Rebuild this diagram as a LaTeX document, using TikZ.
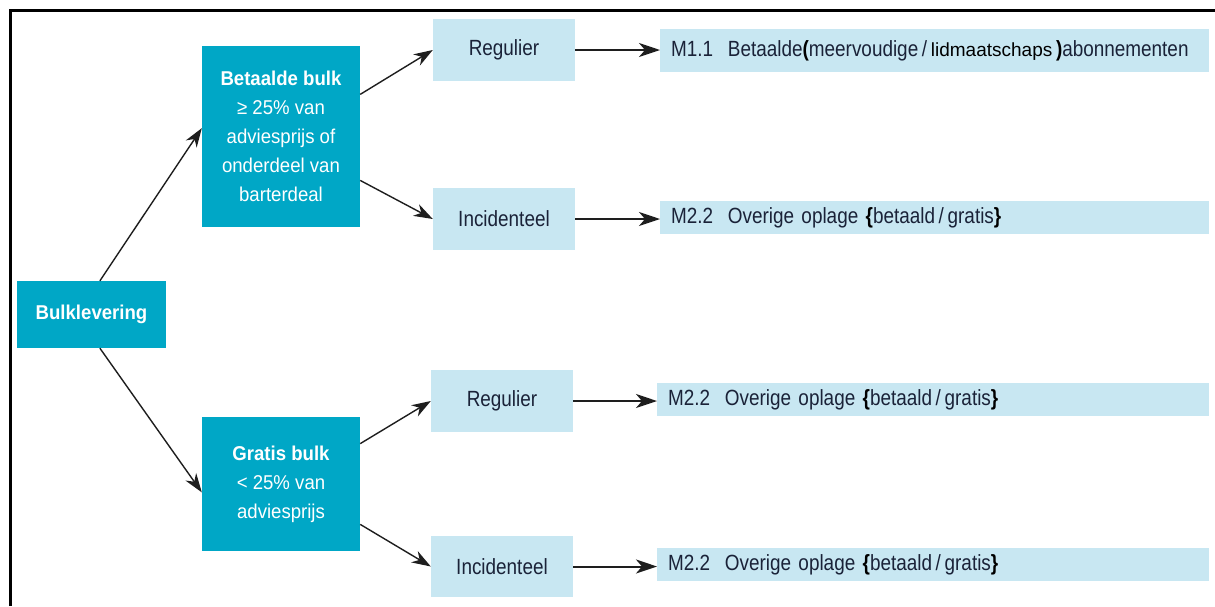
\documentclass[tikz,border=0pt]{standalone}
\usepackage{fontspec}
\setmainfont{Liberation Sans}
\newfontfamily\condfont{Liberation Sans}[FakeStretch=0.86]
\newfontfamily\wfont{Liberation Sans}[FakeStretch=0.93]
\usetikzlibrary{arrows.meta}
\definecolor{bkteal}{HTML}{00A7C6}
\definecolor{bklight}{HTML}{C8E7F2}
\definecolor{bktext}{HTML}{1A2238}
\definecolor{bkarrow}{HTML}{1E1E1E}
\begin{document}
\begin{tikzpicture}[x=1pt,y=-1pt,
  darkbox/.style={rectangle, fill=bkteal, text=white, inner sep=0pt, align=center,
    font=\wfont\fontsize{20}{29}\selectfont},
  lightbox/.style={rectangle, fill=bklight, text=bktext, inner sep=0pt, align=center,
    minimum width=142pt, minimum height=62pt, font=\condfont\fontsize{22}{25}\selectfont},
  codebox/.style={rectangle, fill=bklight, text=bktext, anchor=west, align=left,
    inner xsep=11pt, inner ysep=0pt, font=\condfont\fontsize{22}{25}\selectfont},
  arr/.style={draw=bkarrow, line width=1.4pt, -{Stealth[length=19pt,width=13pt,inset=6pt]}},
  harr/.style={draw=bkarrow, line width=2pt, -{Stealth[length=21pt,width=14pt,inset=6pt]}}
]
\useasboundingbox (0,0) rectangle (1215,606);
\coordinate (fa) at (10,606);
\coordinate (fb) at (10,10);
\coordinate (fc) at (1215,10);
\draw[line width=3pt] (fa) -- (fb) -- (fc);

\node[darkbox, minimum width=149pt, minimum height=67pt] (bulk) at (91.5,314.5) {\bfseries Bulklevering};
\node[darkbox, minimum width=158pt, minimum height=181pt] (bet) at (281,136.5)
  {{\bfseries Betaalde bulk}\\≥ 25\% van\\adviesprijs of\\onderdeel van\\barterdeal};
\node[darkbox, minimum width=158pt, minimum height=134pt] (gra) at (281,484)
  {{\bfseries Gratis bulk}\\< 25\% van\\adviesprijs};

\node[lightbox] (reg1) at (504,50) {Regulier};
\node[lightbox] (inc1) at (504,219) {Incidenteel};
\node[lightbox] (reg2) at (502,401) {Regulier};
\node[lightbox, minimum height=61pt] (inc2) at (502,566.5) {Incidenteel};

\node[codebox, text width=527pt, minimum height=43pt] (m1) at (660,50.5)
  {M1.1\ \ Betaalde{\color{black}\bfseries(}meervoudige\,/\,{\normalfont\fontsize{19}{25}\selectfont\color{black}lidmaatschaps}\,{\color{black}\bfseries)}abonnementen};
\node[codebox, text width=527pt, minimum height=33pt] (m2a) at (660,217.5)
  {M2.2\ \ Overige oplage {\color{black}\bfseries\{}betaald\,/\,gratis{\color{black}\bfseries\}}};
\node[codebox, text width=530pt, minimum height=33pt] (m2b) at (657,399.5)
  {M2.2\ \ Overige oplage {\color{black}\bfseries\{}betaald\,/\,gratis{\color{black}\bfseries\}}};
\node[codebox, text width=530pt, minimum height=33pt] (m2c) at (657,564.5)
  {M2.2\ \ Overige oplage {\color{black}\bfseries\{}betaald\,/\,gratis{\color{black}\bfseries\}}};

\draw[arr] (bulk.76) -- (bet.174);
\draw[arr] (bulk.-76) -- (gra.186);
\draw[arr] (bet.28) -- (reg1.west);
\draw[arr] (bet.-29) -- (inc1.west);
\draw[arr] (gra.27) -- (reg2.west);
\draw[arr] (gra.-27) -- (inc2.west);

\draw[harr] (reg1.east) -- (m1.west |- reg1.east);
\draw[harr] (inc1.east) -- (m2a.west |- inc1.east);
\draw[harr] (reg2.east) -- (m2b.west |- reg2.east);
\draw[harr] (inc2.east) -- (m2c.west |- inc2.east);
\end{tikzpicture}
\end{document}
